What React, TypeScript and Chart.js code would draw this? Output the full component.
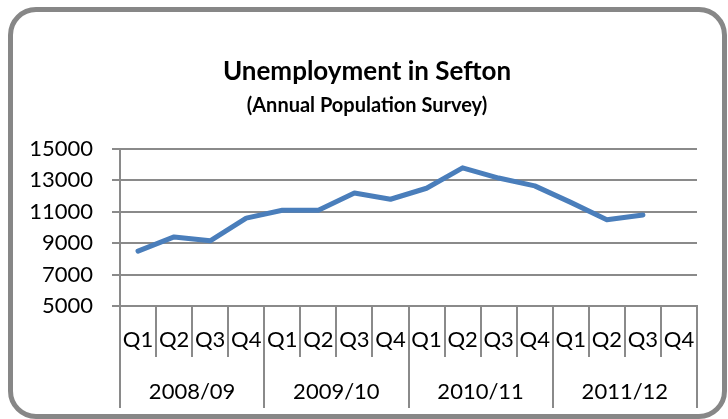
import React, { useEffect, useRef } from "react";
import { Chart, registerables } from "chart.js";

Chart.register(...registerables);

const quarters = [
  "Q1", "Q2", "Q3", "Q4",
  "Q1", "Q2", "Q3", "Q4",
  "Q1", "Q2", "Q3", "Q4",
  "Q1", "Q2", "Q3", "Q4",
];
const years = ["2008/09", "2009/10", "2010/11", "2011/12"];
const unemployment: (number | null)[] = [
  8500, 9400, 9150, 10600,
  11100, 11100, 12200, 11800,
  12500, 13800, 13150, 12650,
  11600, 10500, 10800, null,
];
const yMin = 5000;
const yMax = 15000;
const yStep = 2000;
const titleText = "Unemployment in Sefton";
const subtitleText = "(Annual Population Survey)";

const GRID = "#8a8a8a";
const LINE = "#4a7ebb";
const FONT = "Lato";

export default function App() {
  const ref = useRef<HTMLCanvasElement | null>(null);

  useEffect(() => {
    if (!ref.current) return;
    const chart = new Chart(ref.current, {
      type: "line",
      data: {
        labels: quarters,
        datasets: [
          {
            data: unemployment,
            borderColor: LINE,
            backgroundColor: LINE,
            borderWidth: 5,
            pointRadius: 0,
            tension: 0,
            borderCapStyle: "round",
            borderJoinStyle: "round",
            xAxisID: "x",
            yAxisID: "y",
          },
        ],
      },
      options: {
        responsive: false,
        animation: false,
        layout: { padding: { left: 8, right: 2, top: 0, bottom: 11 } },
        plugins: {
          legend: { display: false },
          tooltip: { enabled: false },
          title: {
            display: true,
            text: titleText,
            color: "#000",
            font: { family: FONT, size: 26, weight: "bold" },
            padding: { top: 56.4, bottom: 5.9 },
          },
          subtitle: {
            display: true,
            text: subtitleText,
            color: "#000",
            font: { family: FONT, size: 20, weight: "bold" },
            padding: { top: 0, bottom: 31.5 },
          },
        },
        scales: {
          y: {
            min: yMin,
            max: yMax,
            ticks: {
              stepSize: yStep,
              color: "#000",
              font: { family: FONT, size: 22 },
              padding: 19,
              callback: (v: any) => String(v),
            },
            grid: { color: GRID, lineWidth: 2, tickLength: 8, drawTicks: true },
            border: { display: true, color: GRID, width: 2 },
            afterFit: (s: any) => {
              s.width = 112;
            },
          },
          yRight: {
            type: "linear",
            position: "right",
            display: true,
            grid: { display: false },
            ticks: { display: false },
            border: { display: false },
            afterFit: (s: any) => {
              s.width = 29;
            },
          },
          x: {
            type: "category",
            labels: quarters,
            offset: true,
            grid: {
              offset: true,
              drawOnChartArea: false,
              tickLength: 51,
              color: GRID,
              lineWidth: 2,
            },
            border: { display: true, color: GRID, width: 2 },
            ticks: {
              autoSkip: false,
              maxRotation: 0,
              padding: -30,
              color: "#000",
              font: { family: FONT, size: 22 },
            },
            afterFit: (s: any) => {
              s.height = 51;
            },
          },
          x2: {
            type: "category",
            labels: years,
            position: "bottom",
            offset: true,
            grid: {
              offset: true,
              drawOnChartArea: false,
              tickLength: 51,
              color: GRID,
              lineWidth: 2,
            },
            border: { display: false },
            ticks: {
              autoSkip: false,
              maxRotation: 0,
              padding: -29,
              color: "#000",
              font: { family: FONT, size: 22 },
            },
            afterFit: (s: any) => {
              s.height = 51;
            },
          },
        },
      } as any,
    });
    return () => chart.destroy();
  }, []);

  return (
    <div
      style={{
        position: "fixed",
        left: 0,
        top: 0,
        width: 728,
        height: 419,
        background: "#fff",
        overflow: "hidden",
      }}
    >
      <canvas ref={ref} width={728} height={419} style={{ position: "absolute", left: 0, top: 0 }} />
      <div
        style={{
          position: "absolute",
          left: 8,
          top: 7,
          width: 719,
          height: 412,
          boxSizing: "border-box",
          border: "5px solid #878787",
          borderRadius: 28,
          pointerEvents: "none",
        }}
      />
    </div>
  );
}
